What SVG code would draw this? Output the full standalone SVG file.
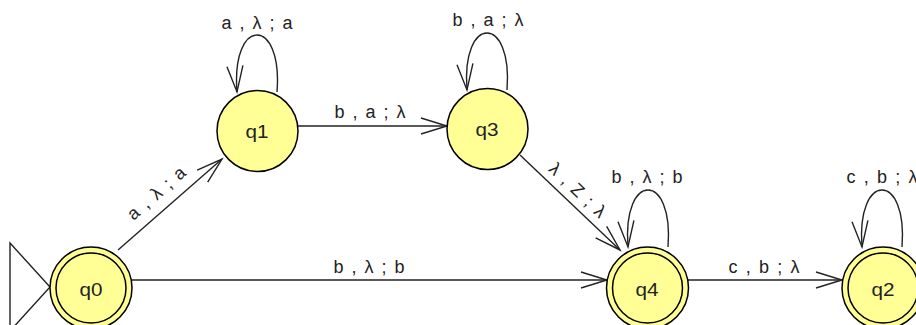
<svg xmlns="http://www.w3.org/2000/svg" width="916" height="325" viewBox="0 0 916 325">
<style>
.st{fill:#ffff96;stroke:#000;stroke-width:1.5}
.lbl{font-family:"Liberation Sans",Arial,sans-serif;font-size:18px;fill:#222;text-anchor:middle}
.nm{font-family:"Liberation Sans",Arial,sans-serif;font-size:19px;fill:#222;text-anchor:middle}
.e{fill:none;stroke:#222;stroke-width:1.4;marker-end:url(#ah)}
</style>
<defs>
<marker id="ah" markerUnits="userSpaceOnUse" viewBox="-30 -12 32 24" refX="0" refY="0" markerWidth="32" markerHeight="24" orient="auto" overflow="visible">
<path d="M-26,-8 L0,0 L-26,8" fill="none" stroke="#222" stroke-width="1.4"/>
</marker>
</defs>
<rect width="916" height="325" fill="#fff"/>
<g id="connectors">
<path class="e" d="M118,250 L222,159"/>
<path class="e" d="M132,280 L607,280"/>
<path class="e" d="M298,126 L447,126"/>
<path class="e" d="M520,155 L620,250"/>
<path class="e" d="M688,280 L842,280"/>
<path class="e" d="M277,92 C283,16 231,16 237,92"/>
<path class="e" d="M507,90 C513,14 461,14 467,90"/>
<path class="e" d="M668,247 C674,171 622,171 628,247"/>
<path class="e" d="M902,247 C908,171 856,171 862,247"/>
<text class="lbl" textLength="71" lengthAdjust="spacing" transform="translate(157,194) rotate(-41)" y="5">a , λ ; a</text>
<text class="lbl" textLength="71" lengthAdjust="spacing" x="369" y="273">b , λ ; b</text>
<text class="lbl" textLength="71" lengthAdjust="spacing" x="370" y="118">b , a ; λ</text>
<text class="lbl" textLength="71" lengthAdjust="spacing" transform="translate(577,191) rotate(43.5)" y="5">λ , Z ; λ</text>
<text class="lbl" textLength="71" lengthAdjust="spacing" x="764" y="273">c , b ; λ</text>
<text class="lbl" textLength="71" lengthAdjust="spacing" x="257" y="29">a , λ ; a</text>
<text class="lbl" textLength="71" lengthAdjust="spacing" x="488" y="26">b , a ; λ</text>
<text class="lbl" textLength="71" lengthAdjust="spacing" x="647" y="183">b , λ ; b</text>
<text class="lbl" textLength="71" lengthAdjust="spacing" x="882" y="183">c , b ; λ</text>
</g>
<g id="start">
<polygon points="10,243 50,287 10,331" fill="none" stroke="#222" stroke-width="1.4"/>
</g>
<g id="q0">
<circle class="st" cx="91" cy="288" r="41"/>
<circle class="st" cx="91" cy="288" r="35"/>
<text class="nm" x="91" y="296" textLength="23" lengthAdjust="spacingAndGlyphs">q0</text>
</g>
<g id="q1">
<circle class="st" cx="257.5" cy="131" r="40.5"/>
<text class="nm" x="257" y="138" textLength="23" lengthAdjust="spacingAndGlyphs">q1</text>
</g>
<g id="q3">
<circle class="st" cx="487.5" cy="129" r="40.5"/>
<text class="nm" x="487" y="136" textLength="23" lengthAdjust="spacingAndGlyphs">q3</text>
</g>
<g id="q4">
<circle class="st" cx="647.5" cy="288" r="41"/>
<circle class="st" cx="647.5" cy="288" r="35"/>
<text class="nm" x="647" y="296" textLength="23" lengthAdjust="spacingAndGlyphs">q4</text>
</g>
<g id="q2">
<circle class="st" cx="883" cy="288" r="41"/>
<circle class="st" cx="883" cy="288" r="35"/>
<text class="nm" x="883" y="296" textLength="23" lengthAdjust="spacingAndGlyphs">q2</text>
</g>
</svg>
